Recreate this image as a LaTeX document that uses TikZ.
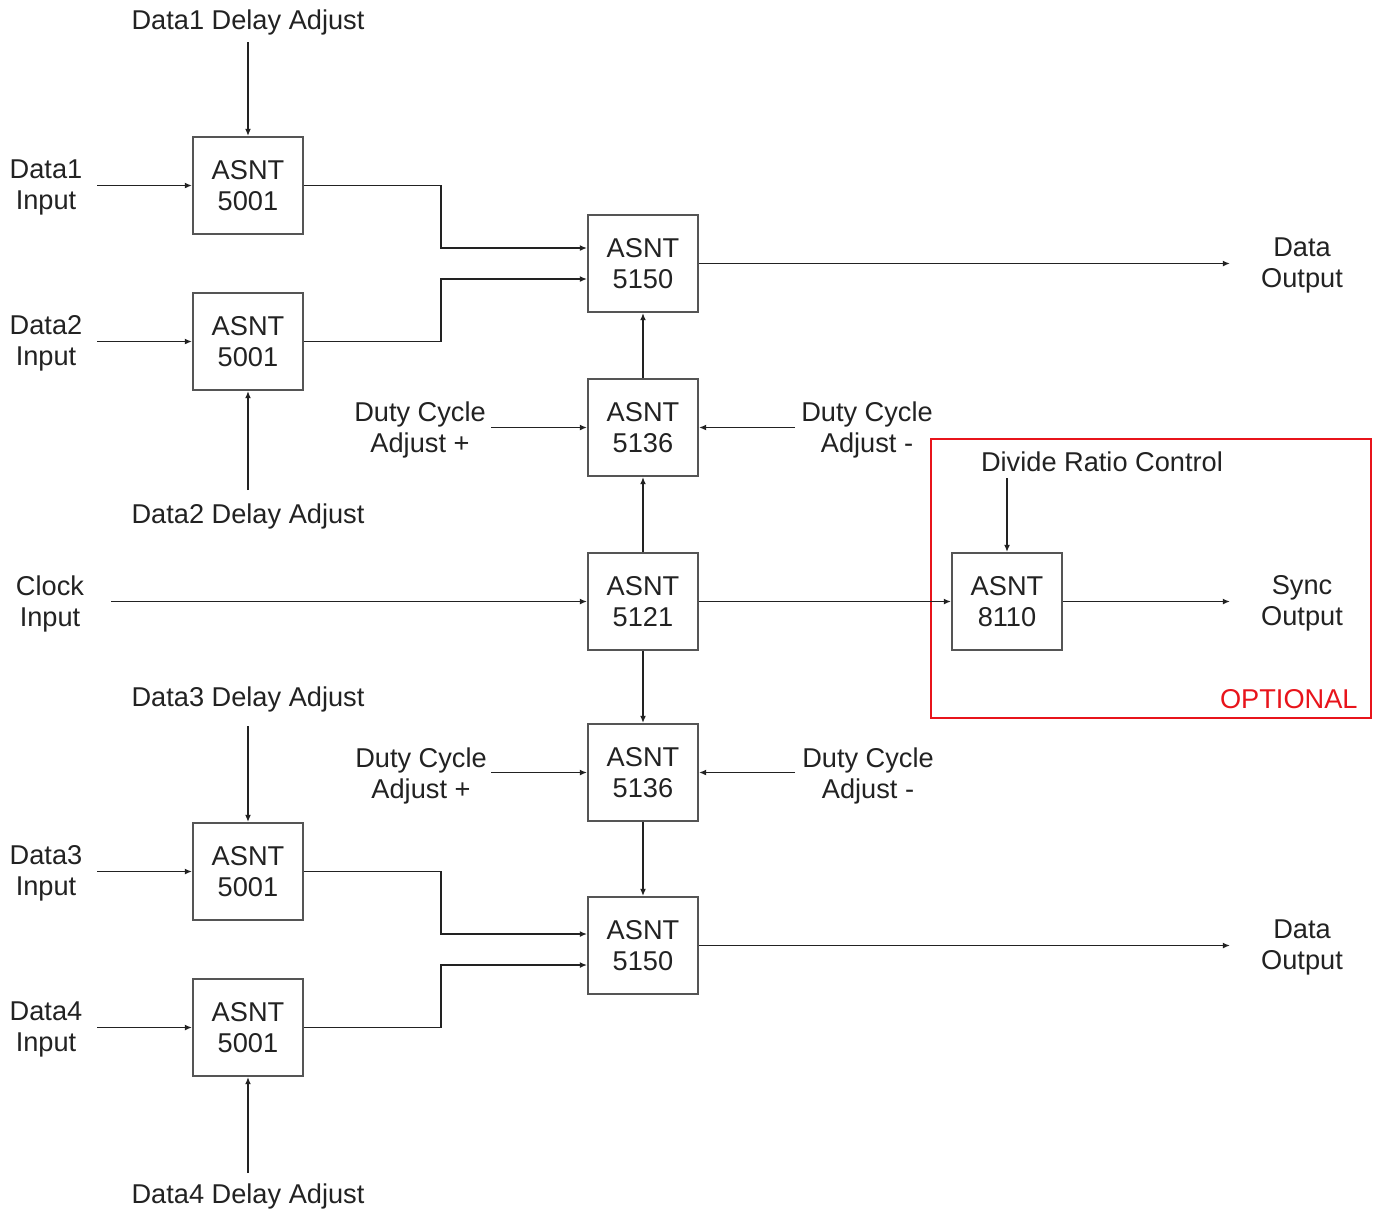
\documentclass[tikz,border=0pt]{standalone}
\usepackage{fontspec}
\setmainfont{Liberation Sans}
\usetikzlibrary{arrows.meta}
\definecolor{txt}{HTML}{222222}
\definecolor{boxc}{HTML}{555555}
\definecolor{optred}{HTML}{E8141B}
\begin{document}
\begin{tikzpicture}[x=0.5pt,y=-0.5pt,
  chip/.style={draw=boxc,line width=1pt,minimum width=55pt,minimum height=48.5pt,inner sep=0pt,align=center,text=txt,font=\fontsize{13.6}{15.5}\selectfont},
  lbl/.style={align=center,text=txt,inner sep=0pt,font=\fontsize{13.6}{15.5}\selectfont},
  sig/.style={draw=txt,line width=0.75pt,-{Latex[length=3.6pt,width=3pt]}},
  wire/.style={draw=txt,line width=0.75pt}]
\useasboundingbox (0,0) rectangle (1373,1212);
% optional box
\draw[optred,line width=1.2pt] (931,439) rectangle (1371,718);
\node[lbl,text=optred,anchor=east] (opt) at (1358,699) {OPTIONAL};
% chips
\node[chip] (a1) at (248,185.5) {ASNT\\5001};
\node[chip] (a2) at (248,341.5) {ASNT\\5001};
\node[chip] (a3) at (248,871.5) {ASNT\\5001};
\node[chip] (a4) at (248,1027.5) {ASNT\\5001};
\node[chip] (m1) at (643,263.5) {ASNT\\5150};
\node[chip] (d1) at (643,427.5) {ASNT\\5136};
\node[chip] (c) at (643,601.5) {ASNT\\5121};
\node[chip] (d2) at (643,772.5) {ASNT\\5136};
\node[chip] (m2) at (643,945.5) {ASNT\\5150};
\node[chip] (s) at (1007,601.5) {ASNT\\8110};
% labels
\node[lbl] (l1d) at (248,22) {Data1 Delay Adjust};
\node[lbl] (l2d) at (248,516) {Data2 Delay Adjust};
\node[lbl] (l3d) at (248,699) {Data3 Delay Adjust};
\node[lbl] (l4d) at (248,1196) {Data4 Delay Adjust};
\node[lbl] (l1i) at (46,187.5) {Data1\\Input};
\node[lbl] (l2i) at (46,343.5) {Data2\\Input};
\node[lbl] (l3i) at (46,873.5) {Data3\\Input};
\node[lbl] (l4i) at (46,1029.5) {Data4\\Input};
\node[lbl] (lck) at (50,603.5) {Clock\\Input};
\node[lbl] (dp1) at (420,429.5) {Duty Cycle\\Adjust +};
\node[lbl] (dm1) at (867,429.5) {Duty Cycle\\Adjust -};
\node[lbl] (dp2) at (421,775.5) {Duty Cycle\\Adjust +};
\node[lbl] (dm2) at (868,775.5) {Duty Cycle\\Adjust -};
\node[lbl] (o1) at (1302,265.5) {Data\\Output};
\node[lbl] (o2) at (1302,947.5) {Data\\Output};
\node[lbl] (os) at (1302,603.5) {Sync\\Output};
\node[lbl] (drc) at (1102,462) {Divide Ratio Control};
% free ends
\coordinate (p1d) at (248,42);
\coordinate (p2d) at (248,490);
\coordinate (p3d) at (248,726);
\coordinate (p4d) at (248,1173);
\coordinate (p1i) at (97,185.5);
\coordinate (p2i) at (97,341.5);
\coordinate (p3i) at (97,871.5);
\coordinate (p4i) at (97,1027.5);
\coordinate (pck) at (111,601.5);
\coordinate (pdp1) at (491,427.5);
\coordinate (pdm1) at (795,427.5);
\coordinate (pdp2) at (491,772.5);
\coordinate (pdm2) at (795,772.5);
\coordinate (po1) at (1230,263.5);
\coordinate (po2) at (1230,945.5);
\coordinate (pos) at (1230,601.5);
\coordinate (pdrc) at (1007,478);
% connectors
\draw[sig] (p1d) -- (a1.north);
\draw[sig] (p2d) -- (a2.south);
\draw[sig] (p3d) -- (a3.north);
\draw[sig] (p4d) -- (a4.south);
\draw[sig] (p1i) -- (a1.west);
\draw[sig] (p2i) -- (a2.west);
\draw[sig] (p3i) -- (a3.west);
\draw[sig] (p4i) -- (a4.west);
\draw[sig] (a1.east) -- (441,185.5) |- ([yshift=7.75pt]m1.west);
\draw[sig] (a2.east) -- (441,341.5) |- ([yshift=-7.75pt]m1.west);
\draw[sig] (a3.east) -- (441,871.5) |- ([yshift=5.75pt]m2.west);
\draw[sig] (a4.east) -- (441,1027.5) |- ([yshift=-9.75pt]m2.west);
\draw[sig] (pck) -- (c.west);
\draw[sig] (c.north) -- (d1.south);
\draw[sig] (d1.north) -- (m1.south);
\draw[sig] (c.south) -- (d2.north);
\draw[sig] (d2.south) -- (m2.north);
\draw[sig] (c.east) -- (s.west);
\draw[sig] (pdp1) -- (d1.west);
\draw[sig] (pdm1) -- (d1.east);
\draw[sig] (pdp2) -- (d2.west);
\draw[sig] (pdm2) -- (d2.east);
\draw[sig] (m1.east) -- (po1);
\draw[sig] (m2.east) -- (po2);
\draw[sig] (s.east) -- (pos);
\draw[sig] (pdrc) -- (s.north);
\end{tikzpicture}
\end{document}
